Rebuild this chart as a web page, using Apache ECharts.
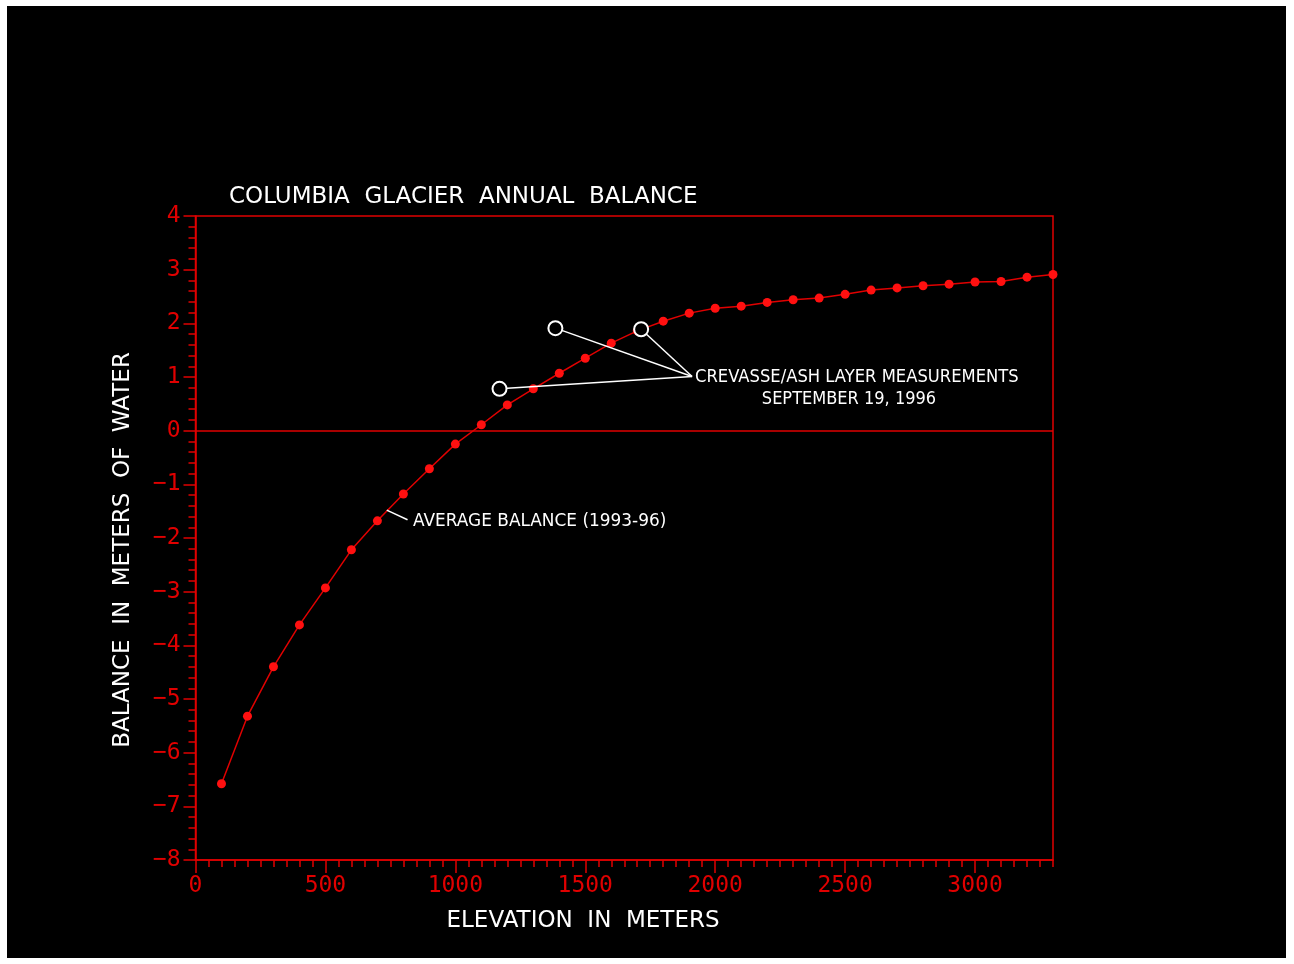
<!DOCTYPE html>
<html>
<head>
<meta charset="utf-8">
<title>Columbia Glacier Annual Balance</title>
<script src="https://cdn.jsdelivr.net/npm/echarts@6/dist/echarts.min.js"></script>
<style>
  html, body { margin: 0; padding: 0; background: #ffffff; }
  #chart { position: absolute; left: 7px; top: 6px; width: 1279px; height: 952px; background: #000000; }
</style>
</head>
<body>
<div id="chart"></div>
<script>
// Elevation (m) of each averaged balance point
const elevations = [100, 200, 300, 400, 500, 600, 700, 800, 900, 1000,
  1100, 1200, 1300, 1400, 1500, 1600, 1700, 1800, 1900, 2000,
  2100, 2200, 2300, 2400, 2500, 2600, 2700, 2800, 2900, 3000,
  3100, 3200, 3300];
// Average annual balance 1993-96 (m water equivalent)
const avgBalance = [-6.58, -5.32, -4.40, -3.62, -2.93, -2.22, -1.68, -1.18, -0.71, -0.25,
  0.11, 0.48, 0.78, 1.07, 1.35, 1.63, 1.86, 2.04, 2.19, 2.28,
  2.32, 2.39, 2.44, 2.47, 2.54, 2.62, 2.66, 2.70, 2.73, 2.77,
  2.78, 2.86, 2.91];
// Crevasse / ash layer measurements, September 19, 1996
const crevasseElev = [1170, 1385, 1715];
const crevasseBal = [0.78, 1.91, 1.89];

const RED = '#e00000';
const MARK_RED = '#ff1010';
const WHITE = '#ffffff';
const MONO = '"DejaVu Sans Mono", "Liberation Mono", monospace';
const SANS = '"DejaVu Sans", "Liberation Sans", sans-serif';

const chart = echarts.init(document.getElementById('chart'), null, { renderer: 'canvas' });

const curve = elevations.map((e, i) => [e, avgBalance[i]]);
const crevasse = crevasseElev.map((e, i) => [e, crevasseBal[i]]);

// leader lines from each measurement to the shared label, and to the curve label
const hub = [1911, 1.01];
const leaders = crevasse.map(p => ({ coords: [p, hub] }));
leaders.push({ coords: [[736, -1.48], [816, -1.66]] });

const minusFmt = v => (v < 0 ? '\u2212' + (-v) : String(v));

chart.setOption({
  backgroundColor: '#000000',
  animation: false,
  grid: {
    left: 188.5, top: 210, right: 233, bottom: 98,
    show: true, borderColor: RED, borderWidth: 1.5, backgroundColor: 'transparent'
  },
  xAxis: [
    {
      type: 'value', min: 0, max: 3300, interval: 500, position: 'bottom',
      axisLine: { show: true, onZero: false, lineStyle: { color: RED, width: 1.5 } },
      axisTick: { show: true, length: 13, lineStyle: { color: RED, width: 1.5 } },
      axisLabel: {
        color: RED, fontFamily: MONO, fontSize: 23, margin: 15,
        showMaxLabel: false, formatter: v => (v % 500 === 0 ? String(v) : '')
      },
      splitLine: { show: false }
    },
    {
      type: 'value', min: 0, max: 3300, interval: 50, position: 'bottom', offset: 0,
      axisLine: { show: false, onZero: false },
      axisTick: { show: true, length: 7, lineStyle: { color: RED, width: 1.5 } },
      axisLabel: { show: false },
      splitLine: { show: false }
    }
  ],
  yAxis: {
    type: 'value', min: -8, max: 4, interval: 1,
    axisLine: { show: true, onZero: false, lineStyle: { color: RED, width: 1.5 } },
    axisTick: { show: true, length: 12, lineStyle: { color: RED, width: 1.5 } },
    minorTick: { show: true, splitNumber: 5, length: 7, lineStyle: { color: RED, width: 1.5 } },
    axisLabel: { color: RED, fontFamily: MONO, fontSize: 23, margin: 15, formatter: minusFmt },
    splitLine: { show: false },
    minorSplitLine: { show: false }
  },
  series: [
    {
      type: 'line', data: curve, xAxisIndex: 0,
      symbol: 'circle', symbolSize: 9,
      lineStyle: { color: RED, width: 1.5 },
      itemStyle: { color: MARK_RED },
      z: 3,
      markLine: {
        silent: true, symbol: 'none', label: { show: false },
        lineStyle: { color: RED, width: 1.5, type: 'solid' },
        data: [{ yAxis: 0 }]
      }
    },
    {
      type: 'lines', coordinateSystem: 'cartesian2d', xAxisIndex: 0,
      data: leaders, polyline: false,
      lineStyle: { color: WHITE, width: 1.5, opacity: 1 },
      z: 4
    },
    {
      type: 'scatter', data: crevasse, xAxisIndex: 0,
      symbol: 'circle', symbolSize: 14,
      itemStyle: { color: '#000000', borderColor: WHITE, borderWidth: 2, opacity: 1 },
      z: 5
    }
  ],
  graphic: [
    {
      type: 'text', x: 222, y: 180,
      style: { text: 'COLUMBIA  GLACIER  ANNUAL  BALANCE', fill: WHITE, font: '23px ' + SANS }
    },
    {
      type: 'text', x: 116, y: 544, rotation: Math.PI / 2, originX: 0, originY: 0,
      style: { text: 'BALANCE  IN  METERS  OF  WATER', fill: WHITE, font: '23px ' + SANS, align: 'center', verticalAlign: 'middle' }
    },
    {
      type: 'text', x: 576, y: 915,
      style: { text: 'ELEVATION  IN  METERS', fill: WHITE, font: '23px ' + SANS, align: 'center', verticalAlign: 'middle' }
    },
    {
      type: 'text', x: 688, y: 371, scaleX: 0.91,
      style: { text: 'CREVASSE/ASH LAYER MEASUREMENTS', fill: WHITE, font: '18px ' + SANS, verticalAlign: 'middle' }
    },
    {
      type: 'text', x: 842, y: 393, scaleX: 0.9,
      style: { text: 'SEPTEMBER 19, 1996', fill: WHITE, font: '18px ' + SANS, align: 'center', verticalAlign: 'middle' }
    },
    {
      type: 'text', x: 406, y: 515, scaleX: 0.94,
      style: { text: 'AVERAGE BALANCE (1993-96)', fill: WHITE, font: '18px ' + SANS, verticalAlign: 'middle' }
    }
  ]
});
</script>
</body>
</html>
